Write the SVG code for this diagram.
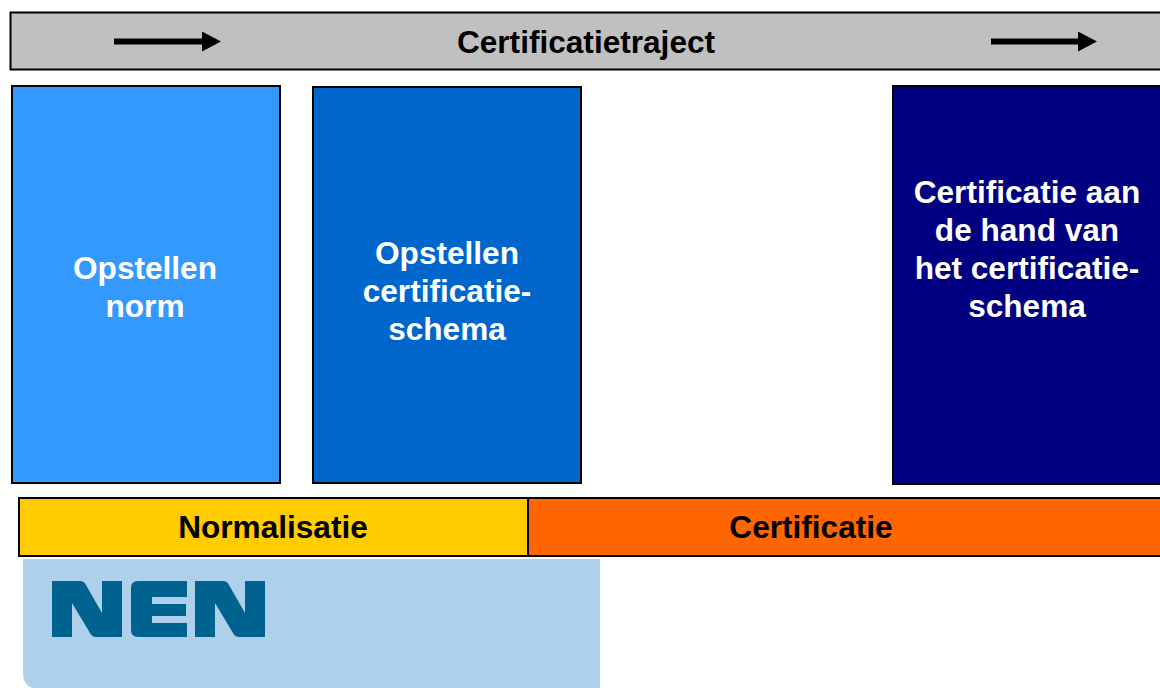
<svg xmlns="http://www.w3.org/2000/svg" width="1160" height="688" viewBox="0 0 1160 688">
<style>
text{font-family:"Liberation Sans",Arial,sans-serif;font-weight:700;text-anchor:middle;font-size:31.6px}
.w{fill:#fff}.k{fill:#000}
rect.b{stroke:#000;stroke-width:2}
.a{stroke:#000;stroke-width:6;fill:none;marker-end:url(#m)}
</style>
<defs><marker id="m" markerUnits="userSpaceOnUse" markerWidth="20" markerHeight="20" refX="0" refY="10" orient="auto"><path d="M0 0L19 10L0 20Z" fill="#000"/></marker></defs>
<rect width="1160" height="688" fill="#fff"/>
<g id="traject"><rect class="b" x="10.500" y="12.500" width="1160" height="57" fill="#c0c0c0"/><text class="k" x="586" y="53">Certificatietraject</text></g>
<g id="connectors"><path class="a" d="M114 41.500H202"/><path class="a" d="M991 41.500H1078"/></g>
<g id="opstellen-norm"><rect class="b" x="12" y="86" width="268" height="397" fill="#3399ff"/><text class="w" x="145" y="279">Opstellen</text><text class="w" x="145" y="317">norm</text></g>
<g id="opstellen-schema"><rect class="b" x="313" y="87" width="268" height="396" fill="#0066cc"/><text class="w" x="447" y="264">Opstellen</text><text class="w" x="447" y="302">certificatie-</text><text class="w" x="447" y="340">schema</text></g>
<g id="certificatie-schema"><rect class="b" x="893" y="86" width="270" height="398" fill="#000080"/><text class="w" x="1027" y="203">Certificatie aan</text><text class="w" x="1027" y="241">de hand van</text><text class="w" x="1027" y="279">het certificatie-</text><text class="w" x="1027" y="317">schema</text></g>
<g id="normalisatie"><rect class="b" x="19" y="498" width="509" height="58" fill="#ffcc00"/><text class="k" x="273" y="538">Normalisatie</text></g>
<g id="certificatie"><rect class="b" x="528" y="498" width="640" height="58" fill="#ff6600"/><text class="k" x="811" y="538">Certificatie</text></g>
<g id="logo"><path d="M23 559H600V688H32Q23 684 23 674Z" fill="#afd0ea"/>
<path d="M52 581H80Q84 581 86 585L102 613V581H122V637H96Q92 637 90 633L72 603V637H52Z" fill="#00628f"/>
<path d="M138 581H187V597H152V604H186V616H152V623H187V637H138Q131 637 131 630V588Q131 581 138 581Z" fill="#00628f"/>
<path d="M195 581H223Q227 581 229 585L245 613V581H265V637H239Q235 637 233 633L215 603V637H195Z" fill="#00628f"/></g>
</svg>
